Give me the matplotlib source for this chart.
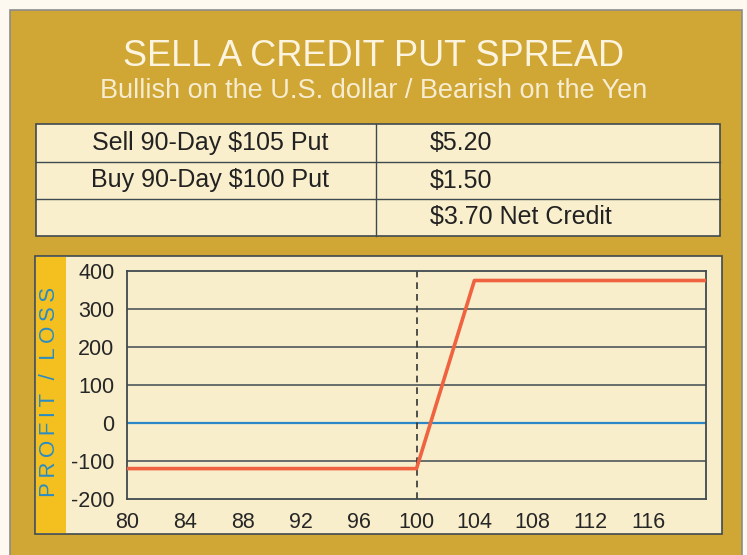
import matplotlib.pyplot as plt
from matplotlib.patches import Rectangle
from matplotlib.lines import Line2D

plt.rcParams['font.family'] = ['Liberation Sans', 'DejaVu Sans']
plt.rcParams['axes.unicode_minus'] = False

# data
title = 'SELL A CREDIT PUT SPREAD'
subtitle = 'Bullish on the U.S. dollar / Bearish on the Yen'
table_left = ['Sell 90-Day $105 Put', 'Buy 90-Day $100 Put', '']
table_right = ['$5.20', '$1.50', '$3.70 Net Credit']
ylabel = 'PROFIT / LOSS'

price = [80, 100, 104, 120]
pnl = [-120, -120, 375, 375]
strike_line = 100
xticks = [80, 84, 88, 92, 96, 100, 104, 108, 112, 116]
yticks = [-200, -100, 0, 100, 200, 300, 400]

W, H = 747, 555
gold = '#d0a634'
cream = '#f9efcc'
dark = '#3f4a50'

fig = plt.figure(figsize=(W / 100, H / 100), dpi=100)
fig.patch.set_facecolor('#fdf9f1')


def px(x, y, w, h):
    # pixel box (top-left origin) -> figure fraction
    return (x / W, 1 - (y + h) / H, w / W, h / H)


def rect(x, y, w, h, **kw):
    l, b, ww, hh = px(x, y, w, h)
    fig.patches.append(Rectangle((l, b), ww, hh, transform=fig.transFigure, **kw))


def hline(x0, x1, y, **kw):
    fig.lines.append(Line2D([x0 / W, x1 / W], [1 - y / H, 1 - y / H],
                            transform=fig.transFigure, **kw))


def vline(x, y0, y1, **kw):
    fig.lines.append(Line2D([x / W, x / W], [1 - y0 / H, 1 - y1 / H],
                            transform=fig.transFigure, **kw))


# gold panel
rect(10, 10, 732, 560, facecolor=gold, edgecolor='#8c8c8c', lw=1.2)

fig.text(0.5, 1 - 56 / H, title, ha='center', va='center', fontsize=26,
         color='#fcf4de')
fig.text(0.5, 1 - 91 / H, subtitle, ha='center', va='center', fontsize=19.5,
         color='#f6ecd0')

# table
rect(36, 124, 684, 112, facecolor=cream, edgecolor=dark, lw=1.2)
hline(36, 720, 162, color=dark, lw=1)
hline(36, 720, 199, color=dark, lw=1)
vline(376, 124, 236, color=dark, lw=1)
row_y = [143, 180.5, 216.5]
for yy, lt, rt in zip(row_y, table_left, table_right):
    fig.text(210 / W, 1 - yy / H, lt, ha='center', va='center', fontsize=18,
             color='#222222')
    fig.text(430 / W, 1 - yy / H, rt, ha='left', va='center', fontsize=18,
             color='#222222')

# chart panel
rect(35, 256, 687, 278, facecolor='#f8eecb', edgecolor=dark, lw=1.2)
rect(36, 257, 30, 276, facecolor='#f3c020', edgecolor='none')
spaced = '\u2009'.join(ylabel.replace(' ', '\u2009'))
fig.text(50 / W, 1 - 392 / H, spaced, rotation=90,
         ha='center', va='center', fontsize=16, color='#2a8cc4')

ax = fig.add_axes(px(127, 271, 579, 228))
ax.set_zorder(5)
ax.set_facecolor('#f8eecb')
ax.set_xlim(80, 120)
ax.set_ylim(-200, 400)
for v in yticks:
    if v == 0:
        ax.axhline(v, color='#2d86c6', lw=1.6, zorder=1)
    elif v not in (-200, 400):
        ax.axhline(v, color=dark, lw=1.1, zorder=1)
ax.axvline(strike_line, color='#333333', lw=1.2, ls=(0, (4, 3)), zorder=2)
ax.plot(price, pnl, color='#ef6340', lw=2.6, zorder=3)

ax.set_xticks(xticks)
ax.set_yticks(yticks)
ax.tick_params(length=0, labelsize=15.5, colors='#262626', pad=9)
ax.tick_params(axis='y', pad=9)
for s in ax.spines.values():
    s.set_color(dark)
    s.set_linewidth(1.3)

fig.savefig('out.png', dpi=100, facecolor=fig.get_facecolor())
